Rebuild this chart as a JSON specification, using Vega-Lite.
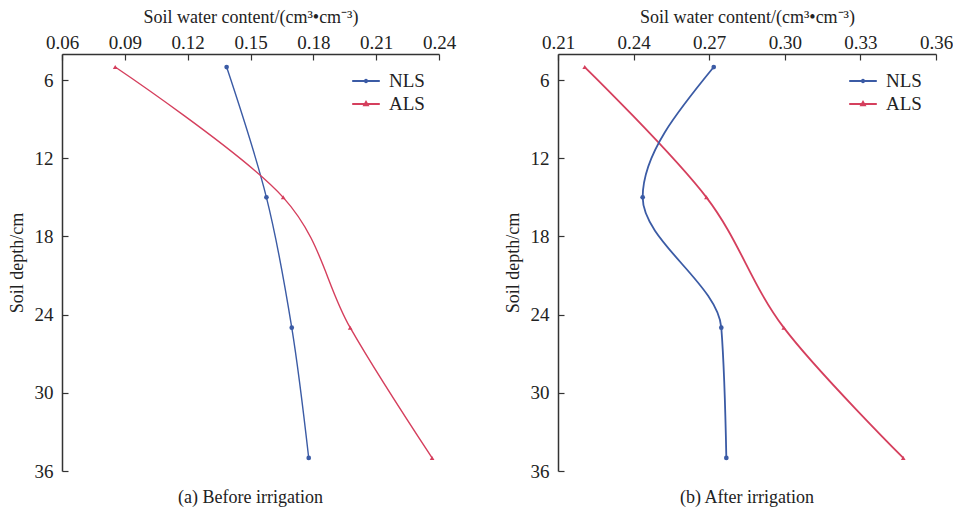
{
  "$schema": "https://vega.github.io/schema/vega-lite/v6.json",
  "padding": {"left": 8, "top": 8, "right": 0, "bottom": 0},
  "background": "white",
  "datasets": {
    "swc": [
      {"panel": "a", "series": "NLS", "depth": 5, "swc": 0.1386},
      {"panel": "a", "series": "NLS", "depth": 15, "swc": 0.1576},
      {"panel": "a", "series": "NLS", "depth": 25, "swc": 0.1697},
      {"panel": "a", "series": "NLS", "depth": 35, "swc": 0.1778},
      {"panel": "a", "series": "ALS", "depth": 5, "swc": 0.0854},
      {"panel": "a", "series": "ALS", "depth": 15, "swc": 0.1656},
      {"panel": "a", "series": "ALS", "depth": 25, "swc": 0.1976},
      {"panel": "a", "series": "ALS", "depth": 35, "swc": 0.2367},
      {"panel": "b", "series": "NLS", "depth": 5, "swc": 0.2718},
      {"panel": "b", "series": "NLS", "depth": 15, "swc": 0.2436},
      {"panel": "b", "series": "NLS", "depth": 25, "swc": 0.2748},
      {"panel": "b", "series": "NLS", "depth": 35, "swc": 0.2768},
      {"panel": "b", "series": "ALS", "depth": 5, "swc": 0.2206},
      {"panel": "b", "series": "ALS", "depth": 15, "swc": 0.2689},
      {"panel": "b", "series": "ALS", "depth": 25, "swc": 0.2996},
      {"panel": "b", "series": "ALS", "depth": 35, "swc": 0.3470}
    ]
  },
  "config": {
    "font": "Liberation Serif",
    "view": {"stroke": null},
    "axis": {
      "grid": false,
      "domain": true,
      "domainColor": "#333333",
      "domainWidth": 1.5,
      "tickColor": "#333333",
      "tickWidth": 1.2,
      "tickSize": -6,
      "labelFlush": false,
      "labelFont": "Liberation Serif",
      "labelFontSize": 19,
      "labelColor": "#222222",
      "titleFont": "Liberation Serif",
      "titleFontSize": 18,
      "titleFontWeight": "normal",
      "titleColor": "#222222"
    },
    "legend": {
      "labelFont": "Liberation Serif",
      "labelFontSize": 19,
      "labelColor": "#222222"
    },
    "title": {"font": "Liberation Serif", "fontSize": 18, "fontWeight": "normal", "color": "#222222"}
  },
  "resolve": {"scale": {"color": "independent"}, "legend": {"color": "independent"}},
  "spacing": 48,
  "hconcat": [
    {
      "width": 377,
      "height": 417,
      "title": {"text": "(a) Before irrigation", "orient": "bottom", "offset": 8},
      "data": {"name": "swc"},
      "transform": [{"filter": "datum.panel === 'a'"}],
      "encoding": {
        "x": {"field": "swc", "type": "quantitative", "scale": {"domain": [0.06, 0.24], "nice": false, "zero": false},
              "axis": {"orient": "top", "title": "Soil water content/(cm³•cm⁻³)", "values": [0.06, 0.09, 0.12, 0.15, 0.18, 0.21, 0.24], "format": ".2f", "labelPadding": 8, "titlePadding": 7}},
        "y": {"field": "depth", "type": "quantitative", "scale": {"domain": [4, 36], "reverse": true, "nice": false, "zero": false},
              "axis": {"title": "Soil depth/cm", "values": [6, 12, 18, 24, 30, 36], "labelPadding": 15, "titlePadding": 8}}
      },
      "layer": [
        {"mark": {"type": "line", "interpolate": "cardinal", "strokeWidth": 1.4},
         "encoding": {"order": {"field": "depth", "type": "quantitative"},
                      "color": {"field": "series", "type": "nominal", "scale": {"domain": ["NLS", "ALS"], "range": ["#3b5ba5", "#d53f5d"]},
                        "legend": {"orient": "top-right", "title": null, "offset": 14, "symbolSize": 576, "symbolStrokeWidth": 2, "labelOffset": 10, "rowPadding": 0,
                          "encode": {"symbols": {"update": {"shape": [{"test": "datum.value === 'NLS'", "value": "M-1.15,0L1.15,0M-0.1,0A0.1,0.1,0,1,0,0.1,0A0.1,0.1,0,1,0,-0.1,0Z"}, {"value": "M-1.15,0L1.15,0M0,-0.17L0.15,0.1L-0.15,0.1Z"}]}}}}}}},
        {"transform": [{"filter": "datum.series === 'NLS'"}],
         "mark": {"type": "point", "filled": true, "opacity": 1, "size": 22, "shape": "circle", "color": "#3b5ba5"}},
        {"transform": [{"filter": "datum.series === 'ALS'"}],
         "mark": {"type": "point", "filled": true, "opacity": 1, "size": 22, "shape": "triangle-up", "color": "#d53f5d"}}
      ]
    },
    {
      "width": 378,
      "height": 417,
      "title": {"text": "(b) After irrigation", "orient": "bottom", "offset": 8},
      "data": {"name": "swc"},
      "transform": [{"filter": "datum.panel === 'b'"}],
      "encoding": {
        "x": {"field": "swc", "type": "quantitative", "scale": {"domain": [0.21, 0.36], "nice": false, "zero": false},
              "axis": {"orient": "top", "title": "Soil water content/(cm³•cm⁻³)", "values": [0.21, 0.24, 0.27, 0.30, 0.33, 0.36], "format": ".2f", "labelPadding": 8, "titlePadding": 7}},
        "y": {"field": "depth", "type": "quantitative", "scale": {"domain": [4, 36], "reverse": true, "nice": false, "zero": false},
              "axis": {"title": "Soil depth/cm", "values": [6, 12, 18, 24, 30, 36], "labelPadding": 15, "titlePadding": 8}}
      },
      "layer": [
        {"transform": [{"filter": "datum.series === 'ALS'"}],
         "mark": {"type": "line", "interpolate": "cardinal", "strokeWidth": 1.8},
         "encoding": {"order": {"field": "depth", "type": "quantitative"},
                      "color": {"field": "series", "type": "nominal", "scale": {"domain": ["NLS", "ALS"], "range": ["#3b5ba5", "#d53f5d"]},
                        "legend": {"orient": "top-right", "title": null, "offset": 14, "symbolSize": 576, "symbolStrokeWidth": 2, "labelOffset": 10, "rowPadding": 0,
                          "encode": {"symbols": {"update": {"shape": [{"test": "datum.value === 'NLS'", "value": "M-1.15,0L1.15,0M-0.1,0A0.1,0.1,0,1,0,0.1,0A0.1,0.1,0,1,0,-0.1,0Z"}, {"value": "M-1.15,0L1.15,0M0,-0.17L0.15,0.1L-0.15,0.1Z"}]}}}}}}},
        {"transform": [{"filter": "datum.series === 'NLS'"}],
         "mark": {"type": "area", "orient": "horizontal", "interpolate": "monotone", "filled": false, "strokeWidth": 1.8},
         "encoding": {"x2": {"field": "swc"},
                      "color": {"field": "series", "type": "nominal", "scale": {"domain": ["NLS", "ALS"], "range": ["#3b5ba5", "#d53f5d"]},
                        "legend": {"orient": "top-right", "title": null, "offset": 14, "symbolSize": 576, "symbolStrokeWidth": 2, "labelOffset": 10, "rowPadding": 0,
                          "encode": {"symbols": {"update": {"shape": [{"test": "datum.value === 'NLS'", "value": "M-1.15,0L1.15,0M-0.1,0A0.1,0.1,0,1,0,0.1,0A0.1,0.1,0,1,0,-0.1,0Z"}, {"value": "M-1.15,0L1.15,0M0,-0.17L0.15,0.1L-0.15,0.1Z"}]}}}}}}},
        {"transform": [{"filter": "datum.series === 'NLS'"}],
         "mark": {"type": "point", "filled": true, "opacity": 1, "size": 22, "shape": "circle", "color": "#3b5ba5"}},
        {"transform": [{"filter": "datum.series === 'ALS'"}],
         "mark": {"type": "point", "filled": true, "opacity": 1, "size": 22, "shape": "triangle-up", "color": "#d53f5d"}}
      ]
    }
  ]
}
